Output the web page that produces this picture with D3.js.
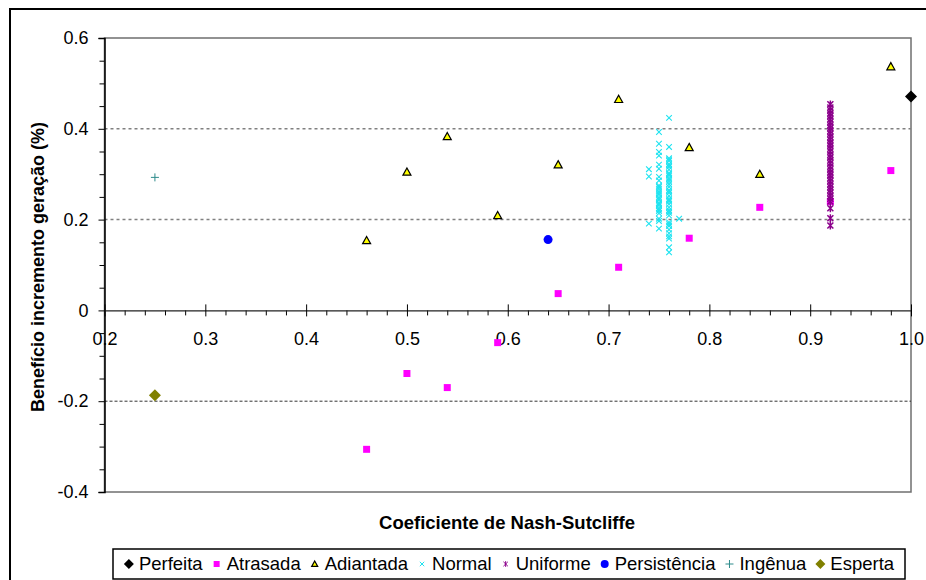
<!DOCTYPE html>
<html><head><meta charset="utf-8">
<script src="https://cdn.jsdelivr.net/npm/d3@7/dist/d3.min.js"></script>
<style>
html,body{margin:0;padding:0;background:#fff;}
svg{display:block;font-family:"Liberation Sans",Arial,sans-serif;}
</style></head>
<body><svg id="chart" width="926" height="580"></svg>
<script>
// ---------- data ----------
const seriesNames = ["Perfeita","Atrasada","Adiantada","Normal","Uniforme","Persistência","Ingênua","Esperta"];
const xTickLabels = ["0.2","0.3","0.4","0.5","0.6","0.7","0.8","0.9","1.0"];
const yTickLabels = ["-0.4","-0.2","0","0.2","0.4","0.6"];

const perfeitaX = [1.0];
const perfeitaY = [0.471];

const atrasadaX = [0.46, 0.50, 0.54, 0.59, 0.65, 0.71, 0.78, 0.85, 0.92, 0.98];
const atrasadaY = [-0.306, -0.139, -0.170, -0.071, 0.037, 0.095, 0.159, 0.227, 0.240, 0.308];

const adiantadaX = [0.46, 0.50, 0.54, 0.59, 0.65, 0.71, 0.78, 0.85, 0.98];
const adiantadaY = [0.154, 0.305, 0.383, 0.209, 0.321, 0.465, 0.359, 0.300, 0.537];

const normalX = [
  0.74, 0.74, 0.74,
  0.75, 0.75, 0.75, 0.75, 0.75, 0.75, 0.75, 0.75, 0.75, 0.75, 0.75,
  0.75, 0.75, 0.75, 0.75, 0.75, 0.75, 0.75, 0.75, 0.75, 0.75,
  0.75, 0.75, 0.75, 0.75, 0.75, 0.75,
  0.76, 0.76, 0.76, 0.76, 0.76, 0.76, 0.76, 0.76, 0.76, 0.76, 0.76,
  0.76, 0.76, 0.76, 0.76, 0.76, 0.76, 0.76, 0.76, 0.76, 0.76, 0.76,
  0.76, 0.76, 0.76, 0.76, 0.76, 0.76, 0.76, 0.76, 0.76,
  0.76, 0.76, 0.76, 0.76, 0.76, 0.76, 0.76, 0.76,
  0.77
];
const normalY = [
  0.311, 0.295, 0.191,
  0.393, 0.367, 0.349, 0.341, 0.321, 0.312, 0.294, 0.286, 0.275, 0.268, 0.262,
  0.255, 0.249, 0.243, 0.237, 0.231, 0.225, 0.219, 0.214, 0.202, 0.180,
  0.272, 0.258, 0.246, 0.234, 0.222, 0.197,
  0.424, 0.360, 0.335, 0.329, 0.322, 0.316, 0.310, 0.303, 0.297, 0.291, 0.284,
  0.278, 0.272, 0.265, 0.259, 0.252, 0.246, 0.240, 0.234, 0.227, 0.221, 0.215,
  0.209, 0.194, 0.186, 0.178, 0.170, 0.163, 0.158, 0.139, 0.128,
  0.332, 0.319, 0.300, 0.288, 0.262, 0.243, 0.218, 0.190,
  0.202
];

const uniformeX = [
  0.92, 0.92, 0.92, 0.92, 0.92, 0.92, 0.92, 0.92, 0.92, 0.92,
  0.92, 0.92, 0.92, 0.92, 0.92, 0.92, 0.92, 0.92, 0.92, 0.92,
  0.92, 0.92, 0.92, 0.92, 0.92, 0.92, 0.92, 0.92, 0.92, 0.92,
  0.92, 0.92, 0.92, 0.92, 0.92, 0.92, 0.92
];
const uniformeY = [
  0.454, 0.447, 0.441, 0.434, 0.428, 0.421, 0.415, 0.408, 0.402, 0.395,
  0.389, 0.382, 0.376, 0.369, 0.363, 0.356, 0.350, 0.343, 0.337, 0.330,
  0.324, 0.317, 0.311, 0.304, 0.298, 0.291, 0.285, 0.278, 0.272, 0.265,
  0.259, 0.252, 0.246, 0.240, 0.225, 0.203, 0.187
];

const persistenciaX = [0.64];
const persistenciaY = [0.156];
const ingenuaX = [0.25];
const ingenuaY = [0.293];
const espertaX = [0.25];
const espertaY = [-0.187];

// ---------- styles ----------
const styles = {
  "Perfeita":     {shape:"diamond", fill:"#000000", stroke:"none", size:6, sw:1},
  "Atrasada":     {shape:"square",  fill:"#FF00FF", stroke:"none", size:3.5, sw:1},
  "Adiantada":    {shape:"triangle",fill:"#FFFF00", stroke:"#000000", size:4, sw:1.2},
  "Normal":       {shape:"x",       fill:"none",    stroke:"#1EE3F0", size:2.8, sw:1.1},
  "Uniforme":     {shape:"star",    fill:"none",    stroke:"#8B008B", size:3, sw:1.5},
  "Persistência": {shape:"circle",  fill:"#0000FF", stroke:"none", size:4.5, sw:1},
  "Ingênua":      {shape:"plus",    fill:"none",    stroke:"#2E8B8B", size:4, sw:1},
  "Esperta":      {shape:"diamond", fill:"#808000", stroke:"none", size:6, sw:1}
};
const seriesData = [
  [perfeitaX, perfeitaY], [atrasadaX, atrasadaY], [adiantadaX, adiantadaY],
  [normalX, normalY], [uniformeX, uniformeY], [persistenciaX, persistenciaY],
  [ingenuaX, ingenuaY], [espertaX, espertaY]
];

function markerPath(shape, s){
  switch(shape){
    case "diamond": return `M0,${-s}L${s},0L0,${s}L${-s},0Z`;
    case "square": return `M${-s},${-s}H${s}V${s}H${-s}Z`;
    case "triangle": return `M0,${-s}L${s},${s*0.8}H${-s}Z`;
    case "x": return `M${-s},${-s}L${s},${s}M${-s},${s}L${s},${-s}`;
    case "star": return `M${-s},${-s}L${s},${s}M${-s},${s}L${s},${-s}M0,${-s*1.3}V${s*1.3}`;
    case "plus": return `M${-s},0H${s}M0,${-s}V${s}`;
  }
  return "";
}
function drawMarker(g, st, x, y){
  if(st.shape==="circle"){
    g.append("circle").attr("cx",x).attr("cy",y).attr("r",st.size).attr("fill",st.fill);
  } else {
    g.append("path").attr("transform",`translate(${x},${y})`)
      .attr("d", markerPath(st.shape, st.size))
      .attr("fill", st.fill).attr("stroke", st.stroke)
      .attr("stroke-width", st.sw);
  }
}

// ---------- chart ----------
const svg = d3.select("#chart");
const L = 104.5, R = 911, T = 38, B = 492;
const x = d3.scaleLinear().domain([0.2, 1.0]).range([L, R]);
const y = d3.scaleLinear().domain([-0.4, 0.6]).range([B, T]);
const FONT = "'Liberation Sans',Arial,sans-serif";

// outer frame
svg.append("rect").attr("x",10).attr("y",9).attr("width",1000).attr("height",1000)
  .attr("fill","none").attr("stroke","#000").attr("stroke-width",2);

// plot area border
svg.append("rect").attr("x",L).attr("y",T).attr("width",R-L).attr("height",B-T)
  .attr("fill","#fff").attr("stroke","#6f6f6f").attr("stroke-width",1.5);

// gridlines
[0.4, 0.2].forEach(v => {
  svg.append("line").attr("x1",L).attr("x2",R).attr("y1",y(v)).attr("y2",y(v))
    .attr("stroke","#808080").attr("stroke-width",1.5).attr("stroke-dasharray","3,3");
});
svg.append("line").attr("x1",L).attr("x2",R).attr("y1",y(-0.2)).attr("y2",y(-0.2))
  .attr("stroke","#333").attr("stroke-width",1).attr("stroke-dasharray","3,2");

// y axis minor ticks
const yMinor = d3.range(-8, 13).map(i => i*0.05).filter(v => Math.round(v*100)%20 !== 0);
svg.append("g").attr("transform",`translate(${L},0)`)
  .call(d3.axisLeft(y).tickValues(yMinor).tickSize(5).tickFormat(""))
  .call(g => g.select(".domain").remove())
  .selectAll("line").attr("stroke","#000");

// y axis major
const yMajor = yTickLabels.map(Number);
svg.append("g").attr("transform",`translate(${L},0)`)
  .call(d3.axisLeft(y).tickValues(yMajor).tickSize(6).tickPadding(10)
        .tickFormat((d,i) => yTickLabels[i]))
  .call(g => g.select(".domain").attr("stroke","#000").attr("stroke-width",1.5))
  .call(g => g.selectAll("line").attr("stroke","#000"))
  .call(g => g.selectAll("text").attr("font-size",18).attr("fill","#000").attr("font-family",FONT));

// x axis at y=0
const xMinor = d3.range(10, 51).map(i => i*0.02).filter(v => Math.round(v*100) % 10 !== 0);
svg.append("g").attr("transform",`translate(0,${y(0)})`)
  .call(d3.axisBottom(x).tickValues(xMinor).tickSize(5).tickFormat(""))
  .call(g => g.select(".domain").remove())
  .selectAll("line").attr("stroke","#000");
const xMajor = xTickLabels.map(Number);
svg.append("g").attr("transform",`translate(0,${y(0)})`)
  .call(d3.axisBottom(x).tickValues(xMajor).tickSize(6).tickSizeOuter(0).tickPadding(16)
        .tickFormat((d,i) => xTickLabels[i]))
  .call(g => g.select(".domain").attr("stroke","#222").attr("stroke-width",1.2))
  .call(g => g.selectAll(".tick line").attr("y1",-6).attr("stroke","#000"))
  .call(g => g.selectAll("text").attr("font-size",18).attr("fill","#000").attr("font-family",FONT));

// markers
const markG = svg.append("g");
seriesNames.forEach((name, si) => {
  const [xs, ys] = seriesData[si];
  xs.forEach((xv, i) => drawMarker(markG, styles[name], x(xv), y(ys[i])));
});

// axis titles
svg.append("text").attr("x",507).attr("y",529).attr("text-anchor","middle")
  .attr("font-size",18.5).attr("font-weight","bold").text("Coeficiente de Nash-Sutcliffe");
svg.append("text").attr("transform","translate(44,267) rotate(-90)").attr("text-anchor","middle")
  .attr("font-size",18).attr("font-weight","bold").text("Benefício incremento geração (%)");

// legend
const lg = svg.append("g");
lg.append("rect").attr("x",113).attr("y",549).attr("width",792).attr("height",30)
  .attr("fill","#fff").attr("stroke","#000").attr("stroke-width",1.5);
let cx = 0;
const items = lg.append("g");
seriesNames.forEach(name => {
  const st = Object.assign({}, styles[name]);
  if(st.shape==="diamond") st.size = 5;
  if(st.shape==="circle") st.size = 4;
  if(st.shape==="x"||st.shape==="star") { st.size = 2.2; st.sw = 1; }
  if(st.shape==="triangle") st.size = 3;
  if(st.shape==="square") st.size = 3;
  drawMarker(items, st, cx + 5, 564);
  const t = items.append("text").attr("x", cx + 15).attr("y", 570)
    .attr("font-size",18.5).attr("fill","#000").text(name);
  cx += 15 + t.node().getComputedTextLength() + 9;
});
const totalW = cx - 9;
items.attr("transform",`translate(${113 + (792 - totalW)/2},0)`);
</script></body></html>
